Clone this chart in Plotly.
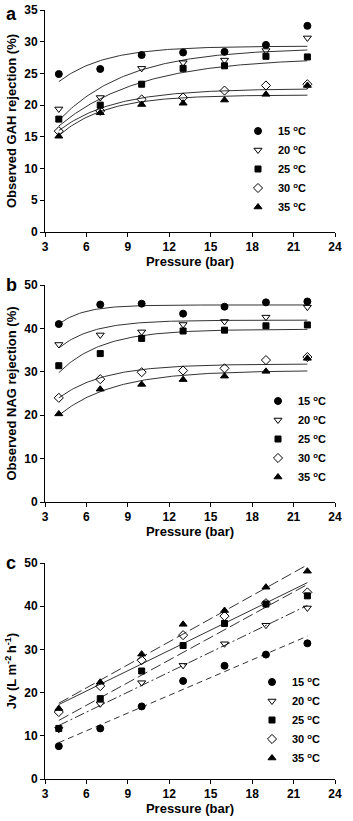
import numpy as np
import plotly.graph_objects as go

pressure = [4, 7, 10, 13, 16, 19, 22]
temps = ["15", "20", "25", "30", "35"]

# Panel a: observed GAH rejection (%)
gah_15 = [24.9, 25.7, 27.9, 28.3, 28.4, 29.5, 32.5]
gah_20 = [19.4, 21.2, 25.8, 26.7, 27.1, 28.6, 30.6]
gah_25 = [17.8, 20.0, 23.3, 25.8, 26.2, 27.7, 27.6]
gah_30 = [15.9, 19.1, 20.9, 21.2, 22.3, 23.1, 23.3]
gah_35 = [15.1, 18.8, 20.1, 20.3, 20.8, 21.7, 23.1]
# fitted saturation curves: value at 4 bar, plateau, rate constant
gah_fit_r4 = [23.7, 17.6, 16.7, 16.0, 15.2]
gah_fit_rinf = [29.3, 29.0, 27.5, 22.6, 21.6]
gah_fit_k = [0.30, 0.20, 0.17, 0.25, 0.30]

# Panel b: observed NAG rejection (%)
nag_15 = [41.0, 45.5, 45.7, 43.4, 45.0, 46.0, 46.2]
nag_20 = [36.3, 38.5, 39.2, 40.9, 41.6, 42.6, 44.9]
nag_25 = [31.4, 34.2, 37.7, 39.4, 39.6, 40.6, 40.8]
nag_30 = [24.0, 28.3, 29.9, 30.3, 30.8, 32.7, 33.4]
nag_35 = [20.3, 26.0, 27.1, 28.2, 29.0, 30.1, 33.1]
nag_fit_r4 = [41.0, 35.5, 29.8, 24.0, 20.0]
nag_fit_rinf = [45.4, 41.9, 39.8, 31.8, 30.3]
nag_fit_k = [0.55, 0.40, 0.32, 0.30, 0.25]

# Panel c: permeate flux Jv
jv_15 = [7.6, 11.7, 16.8, 22.7, 26.2, 28.8, 31.4]
jv_20 = [11.5, 17.4, 22.3, 26.3, 31.3, 35.6, 39.6]
jv_25 = [11.7, 18.6, 25.0, 30.9, 36.0, 40.5, 42.4]
jv_30 = [15.5, 21.5, 27.5, 33.3, 37.7, 40.7, 43.2]
jv_35 = [16.3, 22.4, 28.9, 35.8, 39.0, 44.4, 48.1]

gah = [gah_15, gah_20, gah_25, gah_30, gah_35]
nag = [nag_15, nag_20, nag_25, nag_30, nag_35]
jv = [jv_15, jv_20, jv_25, jv_30, jv_35]

symbols = ["circle", "triangle-down-open", "square", "diamond-open", "triangle-up"]
sizes = [7, 7, 6, 7, 7]
jv_dash = ["6px,4px", "10px,3px,2px,3px", "11px,4px", "solid", "11px,4px"]

W, H = 353, 821
X0, X1 = 45 / W, 335 / W
def yd(top, bot):
    return [1 - bot / H, 1 - top / H]

FONT = "Liberation Sans, Arial, sans-serif"
fig = go.Figure()

panels = [
    ("", "y", "legend", gah, gah_fit_r4, gah_fit_rinf, gah_fit_k),
    ("2", "y2", "legend2", nag, nag_fit_r4, nag_fit_rinf, nag_fit_k),
]
pfine = np.linspace(pressure[0], pressure[-1], 120)
for suf, yref, leg, data, r4, rinf, kk in panels:
    for i, t in enumerate(temps):
        curve = rinf[i] - (rinf[i] - r4[i]) * np.exp(-kk[i] * (pfine - pressure[0]))
        fig.add_trace(go.Scatter(x=pfine, y=curve, mode="lines", xaxis="x" + suf, yaxis=yref,
                                 line=dict(color="#333", width=1), showlegend=False, hoverinfo="skip"))
    for i, t in enumerate(temps):
        fig.add_trace(go.Scatter(x=pressure, y=data[i], mode="markers", xaxis="x" + suf, yaxis=yref,
                                 marker=dict(symbol=symbols[i], size=sizes[i], color="black",
                                             line=dict(color="black", width=1)),
                                 name=t + " <sup>o</sup>C", legend=leg))

pend = np.array([pressure[0], pressure[-1]], dtype=float)
for i, t in enumerate(temps):
    slope, icpt = np.polyfit(pressure, jv[i], 1)
    fig.add_trace(go.Scatter(x=pend, y=slope * pend + icpt, mode="lines", xaxis="x3", yaxis="y3",
                             line=dict(color="#333", width=1, dash=jv_dash[i]), showlegend=False,
                             hoverinfo="skip"))
for i, t in enumerate(temps):
    fig.add_trace(go.Scatter(x=pressure, y=jv[i], mode="markers", xaxis="x3", yaxis="y3",
                             marker=dict(symbol=symbols[i], size=sizes[i], color="black",
                                         line=dict(color="black", width=1)),
                             name=t + " <sup>o</sup>C", legend="legend3"))

tickf = dict(family=FONT, size=12, color="black", weight="bold")
titlef = dict(family=FONT, size=13, color="black", weight="bold")

def xax(anchor):
    return dict(domain=[X0, X1], range=[3, 24], tickmode="array",
                tickvals=[3, 6, 9, 12, 15, 18, 21, 24],
                anchor=anchor, showline=True, linecolor="black", linewidth=1, ticks="outside",
                ticklen=4, tickcolor="black", showgrid=False, zeroline=False, tickfont=tickf,
                automargin=False,
                title=dict(text="Pressure (bar)", font=titlef, standoff=1))

def yax(anchor, dom, vals, title):
    return dict(domain=dom, range=[vals[0], vals[-1]], tickmode="array", tickvals=vals,
                anchor=anchor, showline=True, linecolor="black",
                linewidth=1, ticks="outside", ticklen=4, tickcolor="black", showgrid=False,
                zeroline=False, tickfont=tickf, automargin=False,
                title=dict(text=title, font=titlef, standoff=4))

legf = dict(family=FONT, size=11, color="black", weight="bold")
def legend(xpx, ymid):
    return dict(x=xpx / W, y=1 - ymid / H, xanchor="left", yanchor="middle", xref="paper",
                yref="paper", bgcolor="rgba(0,0,0,0)", font=legf, itemwidth=30, tracegroupgap=0)

fig.update_layout(
    width=W, height=H, margin=dict(l=0, r=0, t=0, b=0, autoexpand=False),
    paper_bgcolor="white", plot_bgcolor="white", showlegend=True,
    xaxis=xax("y"), yaxis=yax("x", yd(10, 232), [0, 5, 10, 15, 20, 25, 30, 35], "Observed GAH rejection (%)"),
    xaxis2=xax("y2"), yaxis2=yax("x2", yd(285, 502), [0, 10, 20, 30, 40, 50], "Observed NAG rejection (%)"),
    xaxis3=xax("y3"), yaxis3=yax("x3", yd(563, 779), [0, 10, 20, 30, 40, 50], "Jv (L m<sup>-2 </sup>h<sup>-1</sup>)"),
    legend=legend(238, 169),
    legend2=legend(258, 439),
    legend3=legend(252, 720),
    annotations=[
        dict(text="a", x=4 / W, y=1 - 2 / H, xref="paper", yref="paper", xanchor="left", yanchor="top",
             showarrow=False, font=dict(family=FONT, size=18, color="black", weight="bold")),
        dict(text="b", x=4 / W, y=1 - 273 / H, xref="paper", yref="paper", xanchor="left", yanchor="top",
             showarrow=False, font=dict(family=FONT, size=18, color="black", weight="bold")),
        dict(text="c", x=4 / W, y=1 - 551 / H, xref="paper", yref="paper", xanchor="left", yanchor="top",
             showarrow=False, font=dict(family=FONT, size=18, color="black", weight="bold")),
    ],
)

fig.write_html("out.html", config={"displayModeBar": False},
               post_script="document.body.style.margin='0';document.body.style.overflow='hidden';")
